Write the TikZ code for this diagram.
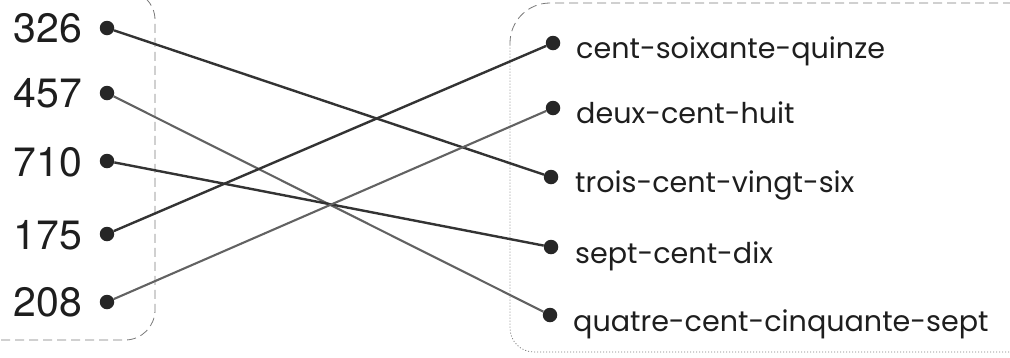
\documentclass[tikz,border=0pt]{standalone}
\usepackage{fontspec}
\newfontfamily\numfont{TeX Gyre Heros}
\newfontfamily\wordfont{Poppins}
\definecolor{inkdark}{HTML}{333333}
\definecolor{inklight}{HTML}{626262}
\definecolor{dotcol}{HTML}{262626}
\definecolor{textcol}{HTML}{1E1E1E}
\definecolor{framecol}{HTML}{7A7A7A}
\begin{document}
\begin{tikzpicture}[x=1pt,y=-1pt,
  dotnode/.style={circle,fill=dotcol,inner sep=0pt,minimum size=14.5pt},
  numnode/.style={anchor=east,inner sep=0pt,text=textcol,font=\numfont\fontsize{41}{41}\selectfont},
  wordnode/.style={anchor=base west,inner sep=0pt,text=textcol,font=\wordfont\fontsize{28.6}{28.6}\selectfont},
  linkdark/.style={line width=2.4pt,draw=inkdark},
  linklight/.style={line width=2.1pt,draw=inklight},
  framedash/.style={draw=framecol,line width=0.8pt,dash pattern=on 9pt off 5pt},
  framedot/.style={draw=framecol,line width=0.8pt,dash pattern=on 1pt off 2pt}]
\useasboundingbox (0,0) rectangle (1010,357);
% frames
\draw[framedash,rounded corners=30pt] (-20,-10) -- (155,-10) -- (155,340) -- (-20,340);
\draw[framedot,rounded corners=24pt] (1015,352) -- (510,352) -- (510,45);
\draw[framedash,rounded corners=40pt] (510,45) -- (510,3) -- (1015,3);
% left numbers
\node[numnode] (n326) at (82,28.5) {326};
\node[numnode] (n457) at (82,93) {457};
\node[numnode] (n710) at (82,162) {710};
\node[numnode] (n175) at (82,235) {175};
\node[numnode] (n208) at (82,302) {208};
\node[dotnode] (l326) at (107,28) {};
\node[dotnode] (l457) at (107,93) {};
\node[dotnode] (l710) at (107,161) {};
\node[dotnode] (l175) at (107,234) {};
\node[dotnode] (l208) at (107,302) {};
% right words
\node[dotnode] (r175) at (553,43) {};
\node[dotnode] (r208) at (553,108) {};
\node[dotnode] (r326) at (551,177) {};
\node[dotnode] (r710) at (551,247) {};
\node[dotnode] (r457) at (550,315) {};
\node[wordnode] (w175) at (576,58) {cent-soixante-quinze};
\node[wordnode] (w208) at (576,123) {deux-cent-huit};
\node[wordnode] (w326) at (575,192) {trois-cent-vingt-six};
\node[wordnode] (w710) at (575,263) {sept-cent-dix};
\node[wordnode] (w457) at (573,331) {quatre-cent-cinquante-sept};
% links
\draw[linkdark] (l326) -- (r326);
\draw[linklight] (l457) -- (r457);
\draw[linkdark] (l710) -- (r710);
\draw[linkdark] (l175) -- (r175);
\draw[linklight] (l208) -- (r208);
\end{tikzpicture}
\end{document}
